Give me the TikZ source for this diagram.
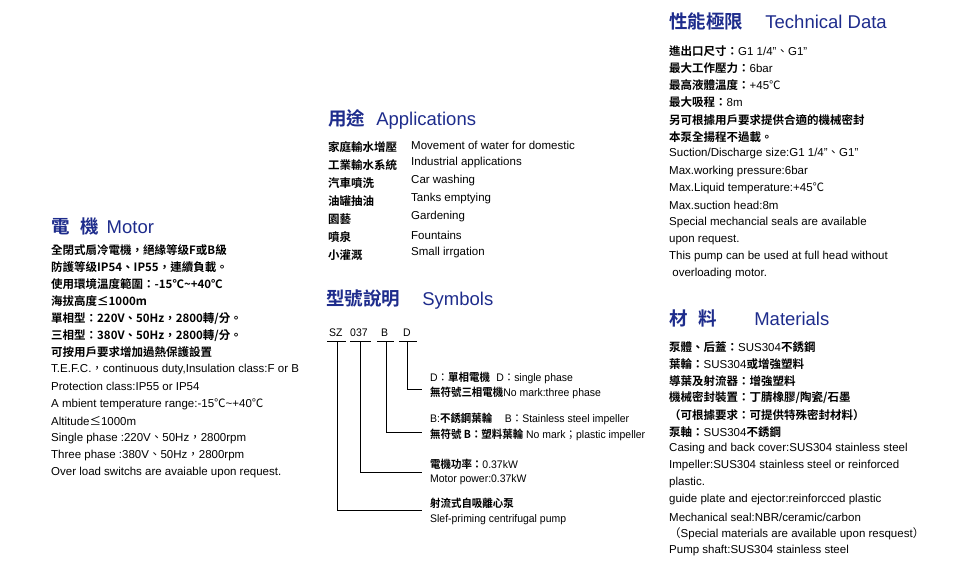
\documentclass[tikz,border=0pt]{standalone}
\usepackage{fontspec}
\setmainfont{Liberation Sans}
\newfontfamily\cjk{Noto Sans CJK TC}[BoldFont={* Bold}]
\newcommand{\cj}[1]{{\cjk\bfseries #1}}
\definecolor{hd}{HTML}{1E2C8C}
\begin{document}
\begin{tikzpicture}[x=1pt,y=-1pt,
  tx/.style={anchor=west,inner sep=0pt,font=\fontsize{11.5}{13}\selectfont},
  sx/.style={anchor=west,inner sep=0pt,font=\fontsize{11}{13}\selectfont,xscale=0.95},
  hdg/.style={anchor=west,inner sep=0pt,text=hd,font=\fontsize{18.5}{20}\selectfont},
  ln/.style={line width=0.9pt}]
\useasboundingbox (0,0) rectangle (960,588);
% Motor
\node[hdg] (mh) at (51,226) {\cj{電\hspace{0.6em}機}\hspace{0.4em}Motor};
\foreach \i/\t in {0/{\cj{全閉式扇冷電機，絕緣等级F或B級}},1/{\cj{防護等级IP54、IP55，連續負載。}},2/{\cj{使用環境溫度範圍：-15℃\textasciitilde+40℃}},3/{\cj{海拔高度≤1000m}},4/{\cj{單相型：220V、50Hz，2800轉/分。}},5/{\cj{三相型：380V、50Hz，2800轉/分。}},6/{\cj{可按用戶要求增加過熱保護設置}},7/{T.E.F.C.{\cjk ，}continuous duty,Insulation class:F or B},8/{Protection class:IP55 or IP54},9/{A mbient temperature range:-15{\cjk ℃}\textasciitilde+40{\cjk ℃}},10/{Altitude{\cjk ≤}1000m},11/{Single phase :220V{\cjk 、}50Hz{\cjk ，}2800rpm},12/{Three phase :380V{\cjk 、}50Hz{\cjk ，}2800rpm},13/{Over load switchs are avaiable upon request.}}
  \node[tx] (m\i) at (51,250+17.1*\i) {\t};
% Applications
\node[hdg] (ah) at (328,119) {\cj{用途}\hspace{0.6em}Applications};
\foreach \i/\c/\e in {0/家庭輸水增壓/Movement of water for domestic,1/工業輸水系統/Industrial applications,2/汽車噴洗/Car washing,3/油罐抽油/Tanks emptying,4/園藝/Gardening,5/噴泉/Fountains,6/小灌溉/Small irrgation}{
  \node[tx] (ac\i) at (328,147+18*\i) {\cj{\c}};
  \node[tx] (ae\i) at (411,145+18*\i) {\e};}
% Symbols
\node[hdg] (sh) at (326,300) {\cj{型號說明}\hspace{1.2em}Symbols};
\node[sx] (s1) at (329,333) {SZ};
\node[sx] (s2) at (350,333) {037};
\node[sx] (s3) at (381,333) {B};
\node[sx] (s4) at (403,333) {D};
\coordinate (u1) at (327,341); \coordinate (u1e) at (346,341);
\coordinate (u2) at (350,341); \coordinate (u2e) at (371,341);
\coordinate (u3) at (377,341); \coordinate (u3e) at (394,341);
\coordinate (u4) at (399,341); \coordinate (u4e) at (417,341);
\foreach \k in {1,2,3,4} \draw[ln] (u\k) -- (u\k e);
\node[sx] (d1) at (430,378) {D{\cjk ：}\cj{單相電機}\hspace{0.6em}D{\cjk ：}single phase};
\node[sx] (d2) at (430,393) {\cj{無符號三相電機}No mark:three phase};
\node[sx] (b1) at (430,419) {B:\cj{不銹鋼葉輪}\hspace{1.2em}B{\cjk ：}Stainless steel impeller};
\node[sx] (b2) at (430,435) {\cj{無符號 B：塑料葉輪} No mark{\cjk ；}plastic impeller};
\node[sx] (p1) at (430,464) {\cj{電機功率：}0.37kW};
\node[sx] (p2) at (430,480) {Motor power:0.37kW};
\node[sx] (f1) at (430,503) {\cj{射流式自吸離心泵}};
\node[sx] (f2) at (430,520) {Slef-priming centrifugal pump};
\coordinate (e4) at (422,389); \coordinate (e3) at (422,432);
\coordinate (e2) at (422,472); \coordinate (e1) at (422,510);
\coordinate (v4) at (407,341); \coordinate (v3) at (386,341);
\coordinate (v2) at (360,341); \coordinate (v1) at (337,341);
\foreach \k in {1,2,3,4} \draw[ln] (v\k) |- (e\k);
% Technical data
\node[hdg] (th) at (669,22) {\cj{性能極限}\hspace{1.2em}Technical Data};
\foreach \i/\t in {0/{\cj{進出口尺寸：}G1 1/4"{\cjk 、}G1"},1/{\cj{最大工作壓力：}6bar},2/{\cj{最高液體溫度：}+45{\cjk ℃}},3/{\cj{最大吸程：}8m},4/{\cj{另可根據用戶要求提供合適的機械密封}},5/{\cj{本泵全揚程不過載。}},6/{Suction/Discharge size:G1 1/4"{\cjk 、}G1"},7/{Max.working pressure:6bar},8/{Max.Liquid temperature:+45{\cjk ℃}},9/{Max.suction head:8m},10/{Special mechancial seals are available},11/{upon request.},12/{This pump can be used at full head without},13/{\ overloading motor.}}
  \node[tx] (t\i) at (669,51+17.15*\i) {\t};
% Materials
\node[hdg] (mth) at (669,318) {\cj{材\hspace{0.6em}料}\hspace{2em}Materials};
\foreach \i/\t in {0/{\cj{泵體、后蓋：}SUS304\cj{不銹鋼}},1/{\cj{葉輪：}SUS304\cj{或增強塑料}},2/{\cj{導葉及射流器：增強塑料}},3/{\cj{機械密封裝置：丁腈橡膠/陶瓷/石墨}},4/{\cj{（可根據要求：可提供特殊密封材料）}},5/{\cj{泵軸：}SUS304\cj{不銹鋼}},6/{Casing and back cover:SUS304 stainless steel},7/{Impeller:SUS304 stainless steel or reinforced},8/{plastic.},9/{guide plate and ejector:reinforcced plastic},10/{Mechanical seal:NBR/ceramic/carbon},11/{{\cjk （}Special materials are available upon resquest{\cjk ）}},12/{Pump shaft:SUS304 stainless steel}}
  \node[tx] (r\i) at (669,347+17*\i) {\t};
\end{tikzpicture}
\end{document}
